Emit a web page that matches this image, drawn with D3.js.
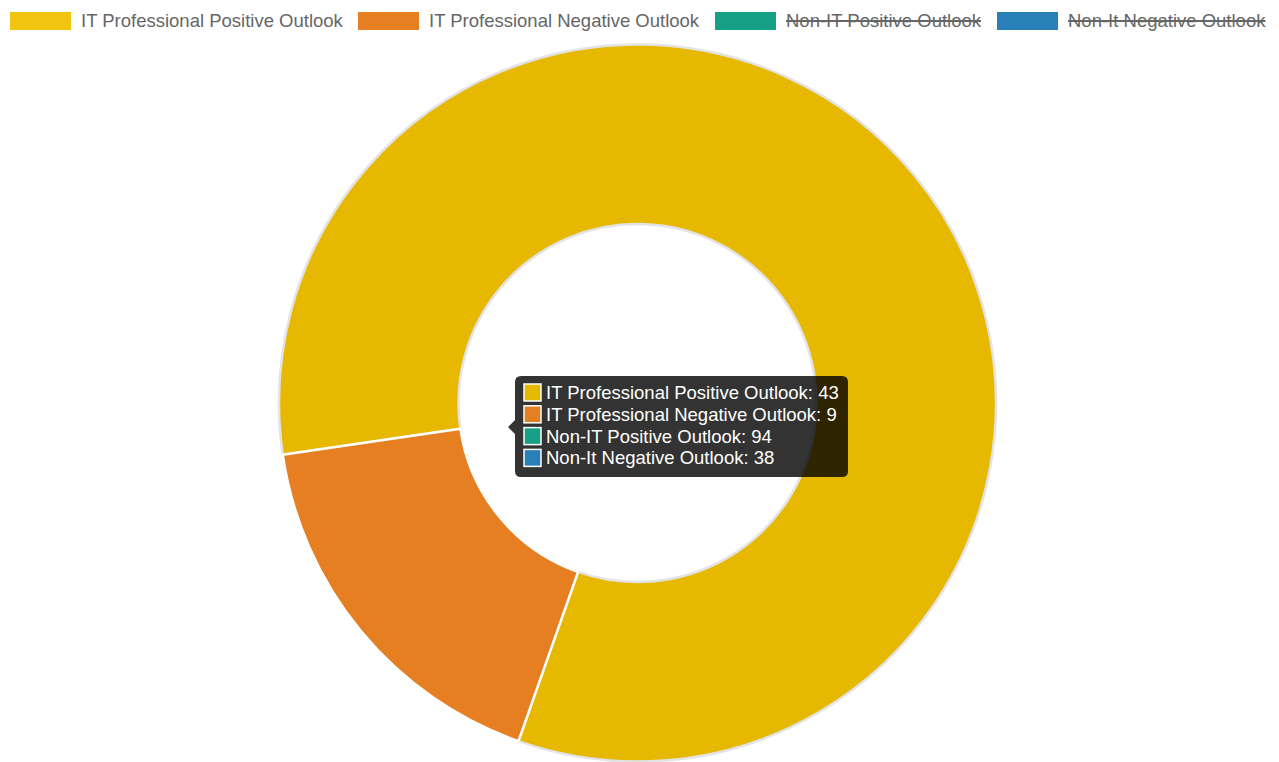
<!DOCTYPE html>
<html>
<head>
<meta charset="utf-8">
<script src="https://cdn.jsdelivr.net/npm/d3@7"></script>
<style>
  html, body { margin: 0; padding: 0; background: #fff; }
  svg { display: block; font-family: "Liberation Sans", Arial, Helvetica, sans-serif; }
</style>
</head>
<body>
<svg id="chart" width="1279" height="762"></svg>
<script>
const labels = ["IT Professional Positive Outlook", "IT Professional Negative Outlook", "Non-IT Positive Outlook", "Non-It Negative Outlook"];
const values = [43, 9, 94, 38];
const hidden = [false, false, true, true];
const legendColors = ["#f1c40f", "#e67e22", "#16a085", "#2980b9"];
const sliceColors = ["#e6b800", "#e67e22", "#16a085", "#2980b9"];
const sliceStrokes = ["#e3e3e3", "#ffffff", "#ffffff", "#ffffff"];

const W = 1279, H = 762;
const FS = 18.5;
const svg = d3.select("#chart");

// ---- Legend ----
const legendX = [10, 358, 715, 997];
const lg = svg.append("g");
labels.forEach((lab, i) => {
  const g = lg.append("g").attr("transform", `translate(${legendX[i]},12)`);
  g.append("rect").attr("width", 61).attr("height", 18)
    .attr("fill", legendColors[i]);
  const t = g.append("text").attr("x", 71).attr("y", 9).attr("dy", "0.35em")
    .attr("font-size", FS).attr("fill", "#666").text(lab);
  if (hidden[i]) {
    const w = t.node().getComputedTextLength();
    g.append("line").attr("x1", 71).attr("x2", 71 + w).attr("y1", 9).attr("y2", 9)
      .attr("stroke", "#666").attr("stroke-width", 2);
  }
});

// ---- Doughnut ----
const cx = 637.5, cy = 403, outerR = 358.5, innerR = 179;
const data = labels.map((l, i) => ({ label: l, value: hidden[i] ? 0 : values[i], i }));
const pie = d3.pie().sort(null).value(d => d.value)
  .startAngle(-98.3 * Math.PI / 180).endAngle((360 - 98.3) * Math.PI / 180);
const arcs = pie(data).filter(d => d.data.value > 0);
const arc = d3.arc().innerRadius(innerR).outerRadius(outerR);
const pg = svg.append("g").attr("transform", `translate(${cx},${cy})`);
pg.selectAll("path").data(arcs).join("path")
  .attr("d", arc)
  .attr("fill", d => sliceColors[d.data.i])
  .attr("stroke", d => sliceStrokes[d.data.i])
  .attr("stroke-width", 2.5)
  .attr("stroke-linejoin", "bevel");

// ---- Tooltip ----
const tx = 515, ty = 376, tw = 333, th = 101, tr = 6;
const tg = svg.append("g");
const caretY = 427;
const p = d3.path();
p.moveTo(tx + tr, ty);
p.lineTo(tx + tw - tr, ty);
p.quadraticCurveTo(tx + tw, ty, tx + tw, ty + tr);
p.lineTo(tx + tw, ty + th - tr);
p.quadraticCurveTo(tx + tw, ty + th, tx + tw - tr, ty + th);
p.lineTo(tx + tr, ty + th);
p.quadraticCurveTo(tx, ty + th, tx, ty + th - tr);
p.lineTo(tx, caretY + 7);
p.lineTo(tx - 7, caretY);
p.lineTo(tx, caretY - 7);
p.lineTo(tx, ty + tr);
p.quadraticCurveTo(tx, ty, tx + tr, ty);
p.closePath();
tg.append("path").attr("d", p.toString()).attr("fill", "rgba(0,0,0,0.8)");
labels.forEach((lab, i) => {
  const y = ty + 8 + i * 21.8;
  tg.append("rect").attr("x", 524).attr("y", y).attr("width", 17).attr("height", 17)
    .attr("fill", sliceColors[i])
    .attr("stroke", "#fff").attr("stroke-width", 1.5);
  tg.append("text").attr("x", 546).attr("y", y + 8.5).attr("dy", "0.35em")
    .attr("font-size", FS).attr("fill", "#fff").text(`${lab}: ${values[i]}`);
});
</script>
</body>
</html>
